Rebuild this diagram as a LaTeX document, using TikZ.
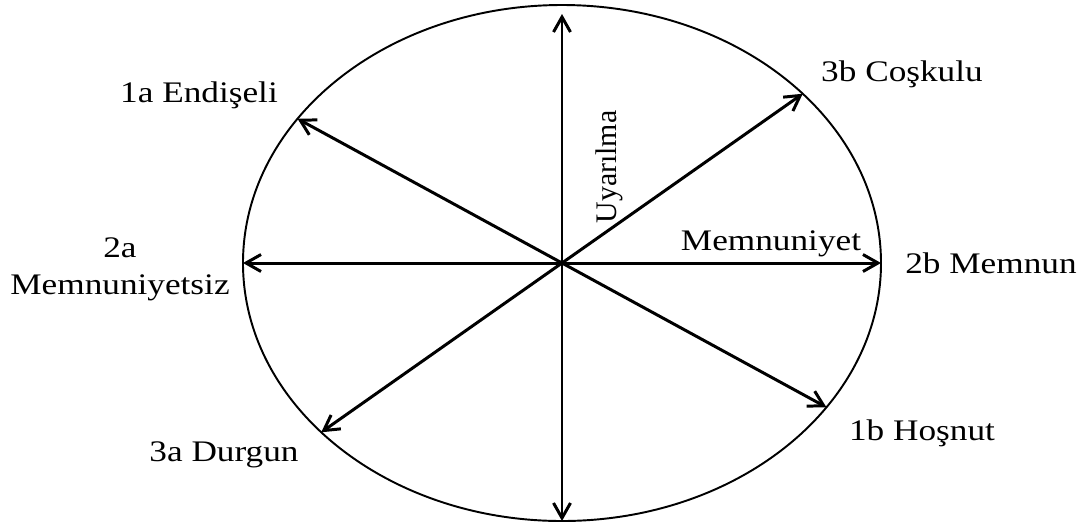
\documentclass[tikz,border=0pt]{standalone}
\usepackage{fontspec}
\setmainfont{Liberation Serif}[FakeStretch=1.18]
\newfontfamily\uprightserif{Liberation Serif}
\usetikzlibrary{arrows.meta}
\tikzset{
  dblarrow/.style = {{Straight Barb[length=3mm,width=3.4mm]}-{Straight Barb[length=3mm,width=3.4mm]}, line width=1.7pt},
  rim/.style      = {line width=1.1pt},
  lbl/.style      = {font=\fontsize{17}{21}\selectfont, inner sep=0pt, align=center},
}

\begin{document}
\begin{tikzpicture}[x=0.02cm,y=0.02cm]
\useasboundingbox (-562,-266) rectangle (522,263);
\coordinate (c) at (0,0);
\draw[rim] (c) ellipse [x radius=319, y radius=258];
% ends of the axes on the rim
\coordinate (top) at (0,249);
\coordinate (bot) at (0,-258);
\coordinate (lft) at (-319,0);
\coordinate (rgt) at (319,0);
\coordinate (e1a) at (146:319 and 258);
\coordinate (e1b) at (-34:319 and 258);
\coordinate (e3a) at (221:319 and 258);
\coordinate (e3b) at (41:319 and 258);
\draw[dblarrow] (bot) -- (top);
\draw[dblarrow] (lft) -- (rgt);
\draw[dblarrow] (e1a) -- (e1b);
\draw[dblarrow] (e3a) -- (e3b);
% labels
\node[lbl,rotate=90,font=\fontsize{17}{21}\uprightserif] (uy) at (47,96) {Uyarılma};
\node[lbl] (mn) at (209,19) {Memnuniyet};
\node[lbl] (l1a) at (-363,168) {1a Endişeli};
\node[lbl] (l2a) at (-442,-6) {2a\\Memnuniyetsiz};
\node[lbl] (l3a) at (-338,-192) {3a Durgun};
\node[lbl] (l3b) at (340,189) {3b Coşkulu};
\node[lbl] (l2b) at (429,0) {2b Memnun};
\node[lbl] (l1b) at (360,-170) {1b Hoşnut};
\end{tikzpicture}
\end{document}
